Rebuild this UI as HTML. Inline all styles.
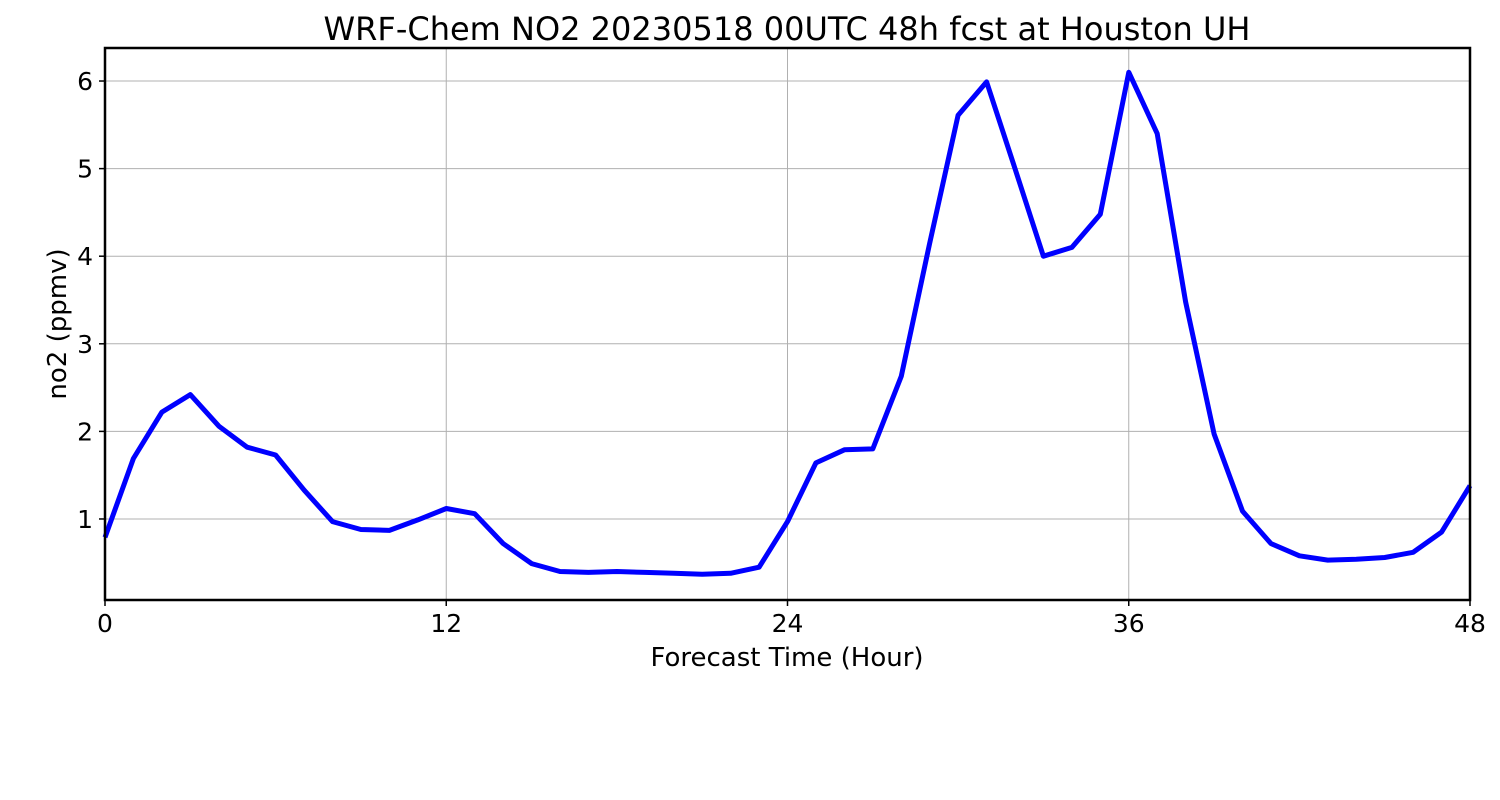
<!DOCTYPE html>
<html>
<head>
<meta charset="utf-8">
<style>
  html,body{margin:0;padding:0;background:#fff;}
  svg{display:block;font-family:"DejaVu Sans","Liberation Sans",sans-serif;}
</style>
</head>
<body>
<svg id="chart" width="1500" height="800" viewBox="0 0 1500 800">
  <rect x="0" y="0" width="1500" height="800" fill="#fff"/>
  <g id="grid"></g>
  <g id="series"></g>
  <rect x="105" y="48" width="1365" height="552" fill="none" stroke="#000" stroke-width="2.5"/>
  <g id="xticks"></g>
  <g id="yticks"></g>
  <text x="787" y="40" font-size="32" text-anchor="middle" fill="#000">WRF-Chem NO2  20230518 00UTC 48h fcst at Houston UH</text>
  <text x="787" y="666" font-size="26" text-anchor="middle" fill="#000">Forecast Time (Hour)</text>
  <text x="0" y="0" font-size="26" text-anchor="middle" fill="#000" transform="translate(66,324) rotate(-90)">no2  (ppmv)</text>
</svg>
<script>
const hours = [0,1,2,3,4,5,6,7,8,9,10,11,12,13,14,15,16,17,18,19,20,21,22,23,24,25,26,27,28,29,30,31,32,33,34,35,36,37,38,39,40,41,42,43,44,45,46,47,48];
const no2Values = [0.79,1.69,2.22,2.42,2.06,1.82,1.73,1.33,0.97,0.88,0.87,0.99,1.12,1.06,0.72,0.49,0.40,0.39,0.40,0.39,0.38,0.37,0.38,0.45,0.97,1.64,1.79,1.80,2.63,4.15,5.61,5.99,5.00,4.00,4.10,4.48,6.10,5.40,3.48,1.97,1.09,0.72,0.58,0.53,0.54,0.56,0.62,0.85,1.38];
const xTickLabels = [0,12,24,36,48];
const yTickLabels = [1,2,3,4,5,6];

const X0=105, X1=1470, Y0=600, Y1=48;
const xMin=0, xMax=48, yMin=0.075, yMax=6.377;
const xScale = v => X0 + (v-xMin)/(xMax-xMin)*(X1-X0);
const yScale = v => Y0 - (v-yMin)/(yMax-yMin)*(Y0-Y1);
const NS="http://www.w3.org/2000/svg";
const grid=document.getElementById('grid');
const xt=document.getElementById('xticks');
const yt=document.getElementById('yticks');

xTickLabels.forEach(t=>{
  const x=xScale(t);
  const g=document.createElementNS(NS,'line');
  g.setAttribute('x1',x);g.setAttribute('x2',x);g.setAttribute('y1',Y1);g.setAttribute('y2',Y0);
  g.setAttribute('stroke','#b0b0b0');g.setAttribute('stroke-width','1');
  
  
  grid.appendChild(g);
  const tk=document.createElementNS(NS,'line');
  tk.setAttribute('x1',x);tk.setAttribute('x2',x);tk.setAttribute('y1',Y0);tk.setAttribute('y2',Y0+6);
  tk.setAttribute('stroke','#000');tk.setAttribute('stroke-width','1.5');
  
  
  xt.appendChild(tk);
  const tx=document.createElementNS(NS,'text');
  tx.setAttribute('x',x);tx.setAttribute('y',632);tx.setAttribute('font-size','25');tx.setAttribute('text-anchor','middle');
  tx.textContent=t;
  
  
  xt.appendChild(tx);
});
yTickLabels.forEach(t=>{
  const y=yScale(t);
  const g=document.createElementNS(NS,'line');
  g.setAttribute('x1',X0);g.setAttribute('x2',X1);g.setAttribute('y1',y);g.setAttribute('y2',y);
  g.setAttribute('stroke','#b0b0b0');g.setAttribute('stroke-width','1');
  
  
  grid.appendChild(g);
  const tk=document.createElementNS(NS,'line');
  tk.setAttribute('x1',X0-6);tk.setAttribute('x2',X0);tk.setAttribute('y1',y);tk.setAttribute('y2',y);
  tk.setAttribute('stroke','#000');tk.setAttribute('stroke-width','1.5');
  
  
  yt.appendChild(tk);
  const tx=document.createElementNS(NS,'text');
  tx.setAttribute('x',X0-12);tx.setAttribute('y',y+9);tx.setAttribute('font-size','25');tx.setAttribute('text-anchor','end');
  tx.textContent=t;
  
  
  yt.appendChild(tx);
});
const pts=hours.map((h,i)=>xScale(h).toFixed(1)+','+yScale(no2Values[i]).toFixed(1)).join(' ');
const pl=document.createElementNS(NS,'polyline');
pl.setAttribute('points',pts);
pl.setAttribute('fill','none');pl.setAttribute('stroke','#0000ff');pl.setAttribute('stroke-width','5');
pl.setAttribute('stroke-linejoin','round');


document.getElementById('series').appendChild(pl);
</script>
</body>
</html>
